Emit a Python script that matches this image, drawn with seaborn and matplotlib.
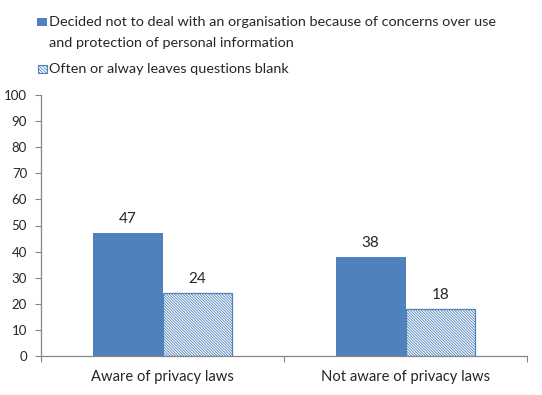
import matplotlib
matplotlib.use("Agg")
import matplotlib.pyplot as plt
from matplotlib.patches import Rectangle
import seaborn as sns
import pandas as pd

categories = ["Aware of privacy laws", "Not aware of privacy laws"]
series_names = [
    "Decided not to deal with an organisation because of concerns over use\nand protection of personal information",
    "Often or alway leaves questions blank",
]
decided_values = [47, 38]
blank_values = [24, 18]
y_ticks = list(range(0, 101, 10))

blue = "#4F81BD"
axis_grey = "#868686"
dense_hatch = "\\" * 12

rows = []
for cat, a, b in zip(categories, decided_values, blank_values):
    rows.append({"group": cat, "series": series_names[0], "value": a})
    rows.append({"group": cat, "series": series_names[1], "value": b})
df = pd.DataFrame(rows)

sns.set_style("white")
plt.rcParams["font.family"] = ["Lato", "DejaVu Sans"]
plt.rcParams["hatch.linewidth"] = 0.6

W, H = 542, 395
fig = plt.figure(figsize=(W / 100, H / 100), dpi=100)
ax = fig.add_axes([41 / W, 39 / H, 486 / W, 261 / H])

sns.barplot(data=df, x="group", y="value", hue="series", order=categories,
            hue_order=series_names, palette=[blue, "white"], width=0.575,
            saturation=1, legend=False, ax=ax)

for container, hatch in zip(ax.containers, [None, dense_hatch]):
    for bar in container:
        bar.set_edgecolor(blue)
        if hatch:
            bar.set_hatch(hatch)
            bar.set_linewidth(0.9)
        else:
            bar.set_linewidth(0)
    ax.bar_label(container, fmt="%d", padding=5, fontsize=11)

ax.set_xlim(-0.5, 1.5)
ax.set_ylim(0, 100)
ax.set_yticks(y_ticks)
ax.set_xlabel("")
ax.set_ylabel("")
ax.tick_params(axis="y", length=4, width=0.8, color=axis_grey, labelsize=9.5, pad=6, left=True)
ax.tick_params(axis="x", which="major", length=0, labelsize=10.6, pad=10)
ax.set_xticks([-0.5, 0.5, 1.5], minor=True)
ax.tick_params(axis="x", which="minor", length=4, width=0.8, color=axis_grey, bottom=True)
for side in ["top", "right"]:
    ax.spines[side].set_visible(False)
for side in ["left", "bottom"]:
    ax.spines[side].set_color(axis_grey)
    ax.spines[side].set_linewidth(0.9)

# legend drawn by hand so the swatch sits on the first text line
def px(x, y):
    return x / W, 1 - y / H

legend_size = 10.4
first_lines = series_names[0].split("\n")
fig.patches.append(Rectangle(px(37, 26), 10 / W, 8.5 / H, transform=fig.transFigure,
                             facecolor=blue, edgecolor="none"))
fig.text(*px(49, 26), first_lines[0], fontsize=legend_size, va="baseline")
fig.text(*px(49, 47), first_lines[1], fontsize=legend_size, va="baseline")
fig.patches.append(Rectangle(px(37.5, 73), 9 / W, 8 / H, transform=fig.transFigure,
                             facecolor="white", edgecolor=blue, hatch="\\" * 10, linewidth=0.8))
fig.text(*px(49, 73), series_names[1], fontsize=legend_size, va="baseline")

fig.savefig("out.png", dpi=100)
